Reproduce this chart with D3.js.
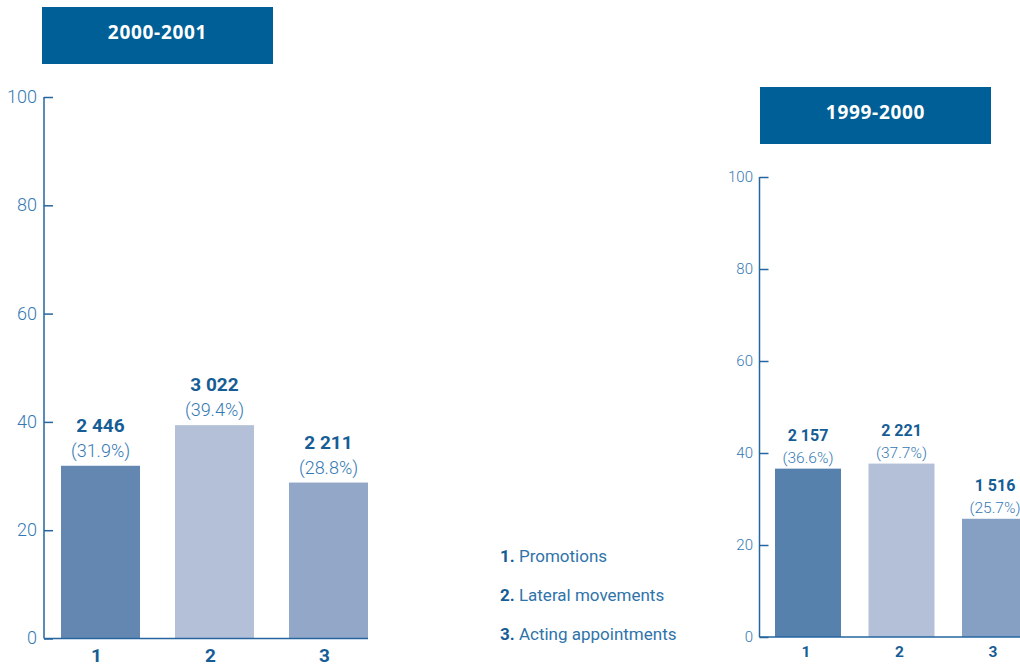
<!DOCTYPE html>
<html>
<head>
<meta charset="utf-8">
<script src="https://cdn.jsdelivr.net/npm/d3@7"></script>
<style>
  html, body { margin: 0; padding: 0; background: #fff; }
  svg { display: block; }
  .narrow { font-family: Roboto, "Liberation Sans", sans-serif; }
</style>
</head>
<body>
<svg id="chart" width="1020" height="665"></svg>
<script>
// Staffing actions by type, two fiscal years
const categories = ["1", "2", "3"];
const legendLabels = ["Promotions", "Lateral movements", "Acting appointments"];
const yTicks = [0, 20, 40, 60, 80, 100];

const period2001 = "2000-2001";
const counts2001 = [2446, 3022, 2211];
const pct2001 = [31.9, 39.4, 28.8];

const period2000 = "1999-2000";
const counts2000 = [2157, 2221, 1516];
const pct2000 = [36.6, 37.7, 25.7];

const svg = d3.select("#chart");
const locale = d3.formatLocale({ decimal: ".", thousands: " ", grouping: [3], currency: ["", ""] });
const fmtCount = locale.format(",d");
const fmtPct = d3.format(".1f");

const titleBlue = "#005f96";
const axisBlue = "#2566a0";
const tickText = "#3579b4";
const valueBlue = "#165d95";

function drawPanel(p) {
  const g = svg.append("g");

  // title banner
  g.append("rect")
    .attr("x", p.box[0]).attr("y", p.box[1])
    .attr("width", p.box[2]).attr("height", p.box[3])
    .attr("fill", titleBlue);
  g.append("text")
    .attr("x", p.box[0] + p.box[2] / 2)
    .attr("y", p.box[1] + 32)
    .attr("text-anchor", "middle")
    .attr("fill", "#fff")
    .style("font-family", "'Open Sans', sans-serif")
    .style("font-weight", 700)
    .style("font-size", p.titleSize + "px")
    .style("letter-spacing", "0.7px")
    .text(p.title);

  const y = d3.scaleLinear().domain([0, 100]).range([p.y0, p.y1]);
  const x = d3.scaleBand().domain(categories)
    .range(p.xRange).paddingInner(p.padInner).paddingOuter(0);

  // bars
  g.append("g").selectAll("rect")
    .data(categories)
    .join("rect")
    .attr("x", d => x(d))
    .attr("width", x.bandwidth())
    .attr("y", (d, i) => y(p.pct[i]))
    .attr("height", (d, i) => y(0) - y(p.pct[i]))
    .attr("fill", (d, i) => p.colors[i]);

  // y axis with inward ticks
  const axis = d3.axisLeft(y).tickValues(yTicks).tickSize(-p.tick).tickPadding(p.tickPad);
  const ag = g.append("g")
    .attr("transform", `translate(${p.axisX},0)`)
    .call(axis);
  ag.select(".domain").attr("stroke", axisBlue).attr("stroke-width", 1.5)
    .attr("d", `M0,${y(100)}V${y(0)}`);
  ag.selectAll(".tick line").attr("stroke", axisBlue).attr("stroke-width", 1.5);
  ag.selectAll(".tick text")
    .attr("class", "narrow")
    .attr("fill", tickText)
    .style("font-size", p.tickSize + "px")
    .style("font-weight", 300)
    .attr("dy", "0.3em");

  // baseline
  g.append("line")
    .attr("x1", p.axisX).attr("x2", p.baseEnd)
    .attr("y1", y(0)).attr("y2", y(0))
    .attr("stroke", axisBlue).attr("stroke-width", 1.5);

  // category labels
  g.append("g").selectAll("text")
    .data(categories)
    .join("text")
    .attr("class", "narrow")
    .attr("x", d => x(d) + x.bandwidth() / 2 + p.catDx)
    .attr("y", p.catY)
    .attr("text-anchor", "middle")
    .attr("fill", valueBlue)
    .style("font-weight", 700)
    .style("font-size", p.catSize + "px")
    .text(d => d);

  // value labels
  const lab = g.append("g").selectAll("g")
    .data(categories)
    .join("g")
    .attr("transform", (d, i) => `translate(${x(d) + x.bandwidth() / 2},${y(p.pct[i])})`);
  lab.append("text")
    .attr("class", "narrow")
    .attr("y", -p.pctGap)
    .attr("text-anchor", "middle")
    .attr("fill", tickText)
    .style("font-size", p.pctSize + "px")
    .style("font-weight", 300)
    .text((d, i) => `(${fmtPct(p.pct[i])}%)`);
  lab.append("text")
    .attr("class", "narrow")
    .attr("y", -p.pctGap - p.lineGap)
    .attr("text-anchor", "middle")
    .attr("fill", valueBlue)
    .style("font-size", p.valSize + "px")
    .style("font-weight", 700)
    .text((d, i) => fmtCount(p.counts[i]));
}

drawPanel({
  title: period2001, counts: counts2001, pct: pct2001,
  box: [42, 7, 231, 57], titleSize: 19,
  y0: 638.5, y1: 97, axisX: 44, tick: 9, tickPad: 7, tickSize: 18,
  xRange: [61, 368], padInner: 0.307, baseEnd: 368,
  colors: ["#6487b2", "#b4c0d8", "#93a8c8"],
  catY: 662, catSize: 19, catDx: -4,
  pctGap: 9, pctSize: 18, lineGap: 25, valSize: 19
});

drawPanel({
  title: period2000, counts: counts2000, pct: pct2000,
  box: [760, 87, 231, 57], titleSize: 19,
  y0: 637, y1: 177, axisX: 759.5, tick: 9, tickPad: 6.5, tickSize: 15,
  xRange: [775, 1028], padInner: 0.294, baseEnd: 1020,
  colors: ["#5781ad", "#b4c0d8", "#86a0c4"],
  catY: 657, catSize: 15.5, catDx: -2,
  pctGap: 6, pctSize: 15.5, lineGap: 22, valSize: 16
});

// legend
const leg = svg.append("g").attr("class", "narrow");
legendLabels.forEach((label, i) => {
  const t = leg.append("text")
    .attr("x", 500)
    .attr("y", 562 + i * 39)
    .style("font-size", "17px");
  t.append("tspan").attr("fill", valueBlue).style("font-weight", 700).text(categories[i] + ".");
  t.append("tspan").attr("fill", "#2f73aa").text(" " + label);
});
</script>
</body>
</html>
